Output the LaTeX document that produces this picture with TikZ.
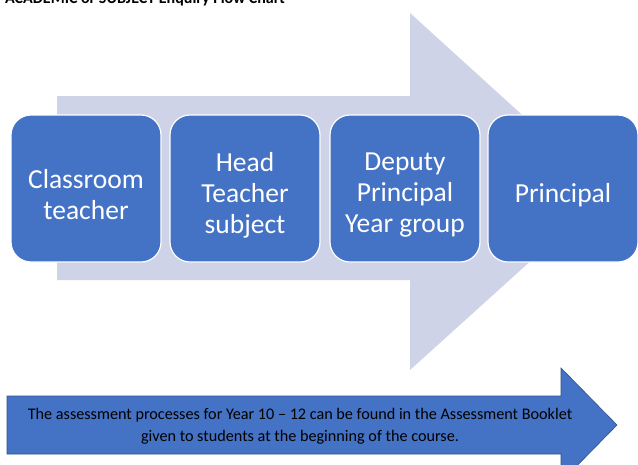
\documentclass[tikz,border=0pt]{standalone}
\usepackage{fontspec}
\setmainfont{Carlito}
\definecolor{boxblue}{RGB}{68,114,196}
\definecolor{lightarrow}{RGB}{206,211,231}
\definecolor{edgeblue}{RGB}{47,82,143}
\tikzset{
  stagebox/.style={draw=white, line width=1.2pt, fill=boxblue, rounded corners=20pt,
    minimum width=150pt, minimum height=147pt, inner sep=0pt},
  stagetext/.style={text=white, align=center, yshift=-6.5pt,
    font=\fontsize{27.5}{31}\selectfont, inner sep=0pt},
  bignote/.style={align=center, text=black, font=\fontsize{16.2}{22}\selectfont},
}
\begin{document}
\begin{tikzpicture}[x=1pt,y=-1pt]
\useasboundingbox[fill=white] (0,0) rectangle (638,464);
% title (cut off at top)
\node[anchor=base west, inner sep=0pt, font=\bfseries\fontsize{16}{18}\selectfont] (title) at (5,3.5) {ACADEMIC or SUBJECT Enquiry Flow Chart};
% big background arrow
\fill[lightarrow] (57,96) -- (410,96) -- (410,13) -- (607,192) -- (410,370) -- (410,280) -- (57,280) -- cycle;
% stage boxes
\node[stagebox] (b1) at (86,188.5) {};
\node[stagebox] (b2) at (245,188.5) {};
\node[stagebox] (b3) at (405,188.5) {};
\node[stagebox] (b4) at (563,188.5) {};
\node[stagetext] (t1) at (b1) {Classroom\\teacher};
\node[stagetext] (t2) at (b2) {Head\\Teacher\\subject};
\node[stagetext] (t3) at (b3) {Deputy\\Principal\\Year group};
\node[stagetext] (t4) at (b4) {Principal};
% bottom arrow
\draw[fill=boxblue, draw=edgeblue, line width=0.6pt] (7,396) -- (561,396) -- (561,368) -- (617,425) -- (561,482) -- (561,454) -- (7,454) -- cycle;
\node[bignote] (note) at (300,426) {The assessment processes for Year 10 -- 12 can be found in the Assessment Booklet\\given to students at the beginning of the course.};
\end{tikzpicture}
\end{document}
